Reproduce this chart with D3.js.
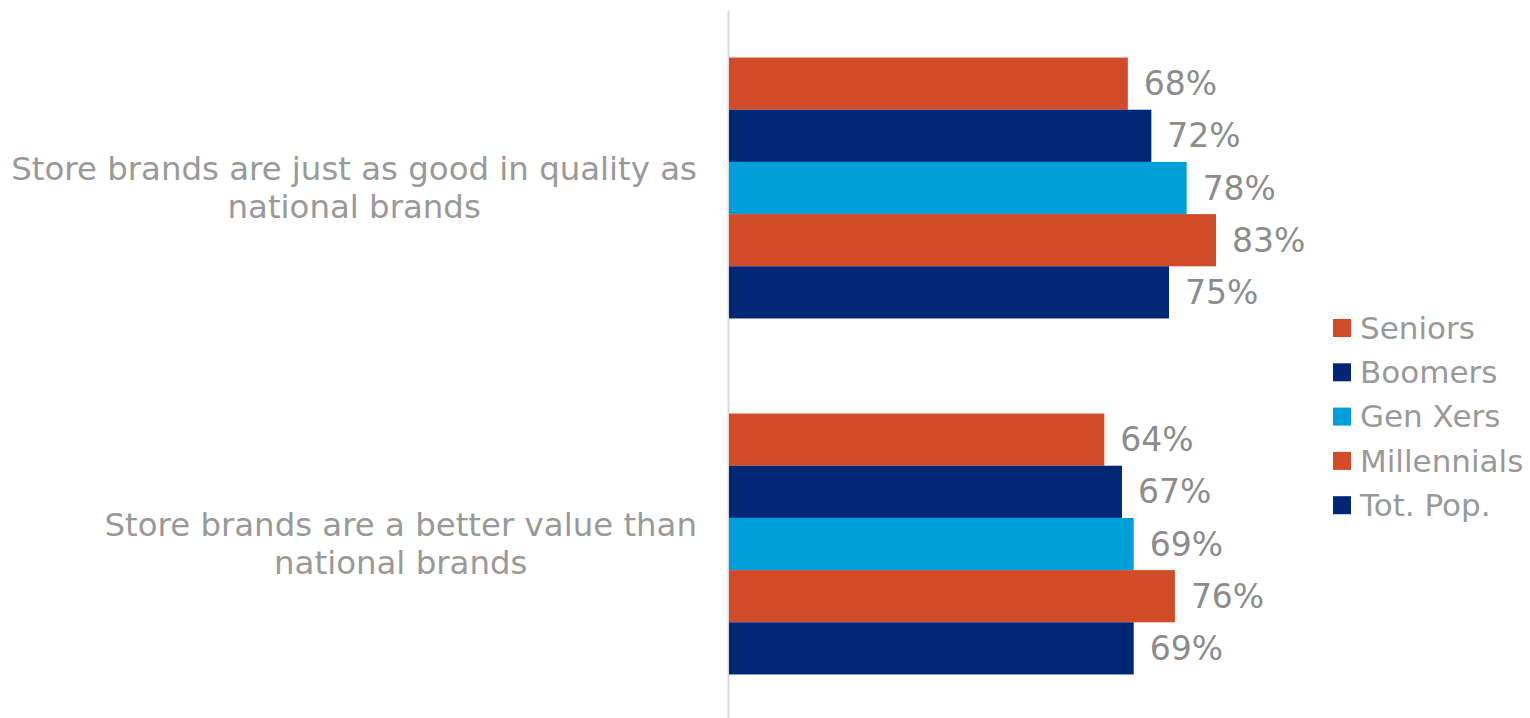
<!DOCTYPE html>
<html>
<head>
<meta charset="utf-8">
<script src="https://cdn.jsdelivr.net/npm/d3@7"></script>
<style>
  html, body { margin: 0; padding: 0; background: #fff; }
  svg { display: block; }
  text { font-family: "DejaVu Sans", Verdana, sans-serif; }
</style>
</head>
<body>
<svg id="chart" width="1530" height="718"></svg>
<script>
// Statements (one bar group each), split into display lines
const categories = [
  "Store brands are just as good in quality as national brands",
  "Store brands are a better value than national brands"
];
const categoryLines = [
  ["Store brands are just as good in quality as", "national brands"],
  ["Store brands are a better value than", "national brands"]
];
const seriesNames = ["Seniors", "Boomers", "Gen Xers", "Millennials", "Tot. Pop."];
const seriesColors = ["#D24B29", "#002776", "#009FDA", "#D24B29", "#002776"];
// Percent agreeing, per series, in category order
const seniors     = [68, 64];
const boomers     = [72, 67];
const genXers     = [78, 69];
const millennials = [83, 76];
const totPop      = [75, 69];
const seriesValues = [seniors, boomers, genXers, millennials, totPop];

const svg = d3.select("#chart");
const x0 = 728;

const x = d3.scaleLinear().domain([0, 100]).range([x0, x0 + 588]);
const y = d3.scaleBand().domain(categories).range([10, 722])
  .paddingInner(0.267).paddingOuter(0.1335);
const ySub = d3.scaleBand().domain(seriesNames).range([0, y.bandwidth()]);
const color = d3.scaleOrdinal().domain(seriesNames).range(seriesColors);

// Vertical category axis line
const axis = svg.append("g")
  .attr("transform", `translate(${x0},0)`)
  .call(d3.axisLeft(y).tickSize(0).tickSizeOuter(0).tickFormat(""));
axis.select(".domain").attr("stroke", "#d9d9d9").attr("stroke-width", 2);

// Category labels: block right-aligned near the axis, lines centred in the block
const labelFont = 32.4, lineGap = 38;
categories.forEach((c, i) => {
  const lines = categoryLines[i];
  const g = svg.append("g");
  const texts = lines.map((ln, j) => g.append("text")
    .attr("font-size", labelFont)
    .attr("fill", "#999999")
    .attr("text-anchor", "middle")
    .attr("y", y(c) + y.bandwidth() / 2 + (j - (lines.length - 1) / 2) * lineGap)
    .attr("dy", "0.35em")
    .text(ln));
  const maxW = d3.max(texts, t => t.node().getComputedTextLength());
  const cx = 697 - maxW / 2;
  texts.forEach(t => t.attr("x", cx));
});

// Bars
const rows = [];
categories.forEach((c, i) => {
  seriesNames.forEach((s, k) => rows.push({ cat: c, series: s, value: seriesValues[k][i] }));
});

svg.append("g").selectAll("rect").data(rows).join("rect")
  .attr("x", x(0) + 1)
  .attr("y", d => y(d.cat) + ySub(d.series))
  .attr("width", d => x(d.value) - x(0) - 1)
  .attr("height", ySub.bandwidth())
  .attr("fill", d => color(d.series));

// Value labels
svg.append("g").selectAll("text").data(rows).join("text")
  .attr("x", d => x(d.value) + 16)
  .attr("y", d => y(d.cat) + ySub(d.series) + ySub.bandwidth() / 2)
  .attr("dy", "0.35em")
  .attr("font-size", 33)
  .attr("fill", "#8c8c8c")
  .text(d => d.value + "%");

// Legend
const legend = svg.append("g").selectAll("g").data(seriesNames).join("g")
  .attr("transform", (d, i) => `translate(1333, ${328 + i * 44.3})`);
legend.append("rect")
  .attr("x", 0).attr("y", -9).attr("width", 18).attr("height", 18)
  .attr("fill", d => color(d));
legend.append("text")
  .attr("x", 27).attr("dy", "0.35em")
  .attr("font-size", 31)
  .attr("fill", "#999999")
  .text(d => d);
</script>
</body>
</html>
